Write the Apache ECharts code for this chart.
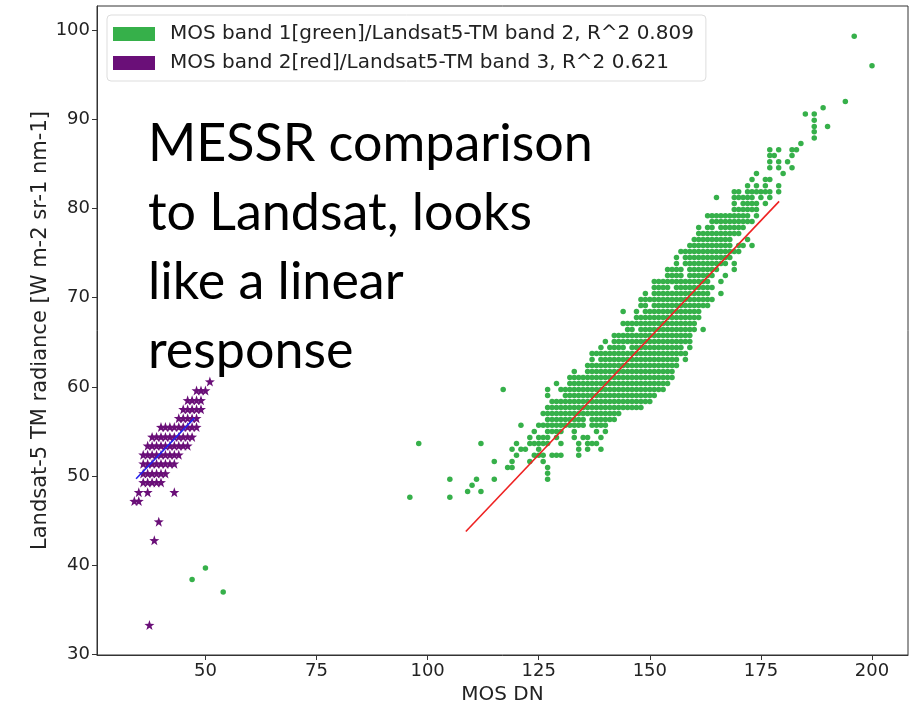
<!DOCTYPE html>
<html>
<head>
<meta charset="utf-8">
<script src="https://cdn.jsdelivr.net/npm/echarts@6/dist/echarts.min.js"></script>
<style>
  html, body { margin: 0; padding: 0; background: #fff; }
  #main { width: 922px; height: 707px; }
</style>
</head>
<body>
<div id="main"></div>
<script>
var greenName = 'MOS band 1[green]/Landsat5-TM band 2, R^2 0.809';
var purpleName = 'MOS band 2[red]/Landsat5-TM band 3, R^2 0.621';

// green band, read row by row: [radiance, first DN, last DN]
var greenRuns = [
  [86.60,177,177],[86.60,179,179],[86.60,182,183],
  [85.93,177,178],[85.93,182,182],
  [85.25,177,177],[85.25,179,179],[85.25,181,181],
  [84.58,177,177],[84.58,179,179],[84.58,182,182],
  [83.91,174,174],[83.91,180,180],
  [83.24,173,173],[83.24,176,177],
  [82.56,172,172],[82.56,174,174],[82.56,176,176],[82.56,179,179],
  [81.89,169,170],[81.89,172,177],[81.89,179,179],
  [81.22,165,165],[81.22,169,173],[81.22,175,175],[81.22,177,177],
  [80.55,169,169],[80.55,171,174],[80.55,176,176],
  [79.88,169,174],
  [79.20,163,172],[79.20,174,174],
  [78.53,164,173],
  [77.86,161,161],[77.86,163,164],[77.86,166,171],
  [77.19,161,170],
  [76.52,160,168],[76.52,172,172],
  [75.84,159,168],[75.84,170,171],[75.84,173,173],
  [75.17,157,170],
  [74.50,156,156],[74.50,158,168],
  [73.83,156,156],[73.83,158,167],[73.83,169,169],
  [73.16,154,157],[73.16,159,165],[73.16,169,169],
  [72.48,154,157],[72.48,159,164],[72.48,167,167],
  [71.81,151,163],[71.81,166,166],
  [71.14,151,154],[71.14,156,164],
  [70.47,149,149],[70.47,151,163],[70.47,166,166],
  [69.80,148,164],
  [69.12,148,149],[69.12,151,163],
  [68.45,144,144],[68.45,147,147],[68.45,149,161],
  [67.78,147,161],
  [67.11,144,160],
  [66.44,145,146],[66.44,148,160],[66.44,162,162],
  [65.77,142,159],
  [65.09,140,140],[65.09,142,159],
  [64.42,139,139],[64.42,141,144],[64.42,146,157],[64.42,159,159],
  [63.75,137,158],
  [63.08,137,137],[63.08,139,156],[63.08,158,158],
  [62.41,136,156],
  [61.73,133,133],[61.73,136,155],
  [61.06,132,155],
  [60.39,129,129],[60.39,132,154],
  [59.72,117,117],[59.72,127,127],[59.72,130,153],
  [59.05,127,127],[59.05,131,151],
  [58.37,128,150],
  [57.70,127,148],
  [57.03,126,143],
  [56.36,127,135],[56.36,137,142],
  [55.69,121,121],[55.69,125,135],[55.69,137,140],
  [55.01,124,124],[55.01,127,130],[55.01,133,133],[55.01,138,138],[55.01,140,140],
  [54.34,123,123],[54.34,125,127],[54.34,129,129],[54.34,133,133],[54.34,135,136],[54.34,139,139],
  [53.67,98,98],[53.67,112,112],[53.67,120,120],[53.67,123,127],[53.67,130,130],[53.67,134,134],[53.67,136,138],
  [53.00,119,119],[53.00,121,122],[53.00,125,125],[53.00,134,134],[53.00,136,136],[53.00,139,139],
  [52.33,120,120],[52.33,124,126],[52.33,128,130],[52.33,134,134],
  [51.65,115,115],[51.65,119,119],[51.65,123,123],[51.65,126,126],
  [50.98,118,119],[50.98,127,127],
  [50.31,127,127],
  [49.64,105,105],[49.64,111,111],[49.64,115,115],[49.64,127,127],
  [48.97,110,110],
  [48.29,109,109],[48.29,112,112],
  [47.62,96,96],[47.62,105,105]
];
// loose green points [DN, radiance]
var greenExtra = [
  [47,38.4],[50,39.7],[54,37.0],
  [184,87.3],[185,90.6],[187,90.6],[187,89.9],[187,89.2],[187,88.6],[187,87.9],
  [189,91.3],[190,89.2],[194,92.0],[196,99.3],[200,96.0]
];

var purpleRuns = [
  [60.6,51,51],[59.6,48,50],[58.5,46,49],[57.5,45,49],[56.5,44,48],
  [55.5,40,48],[54.4,38,47],[53.4,37,46],[52.4,36,44],[51.4,36,43],
  [50.3,36,41],[49.3,36,40],[48.2,35,35],[48.2,37,37],[48.2,43,43],[47.2,34,35]
];
var purpleExtra = [[39.5,44.9],[38.5,42.8],[37.4,33.3]];

var redFit = [[108.6,43.8],[179.1,80.8]];
var blueFit = [[34.4,49.7],[47.5,56.5]];

var xTicks = [50, 75, 100, 125, 150, 175, 200];
var yTicks = [30, 40, 50, 60, 70, 80, 90, 100];

function expand(runs, extra) {
  var pts = [];
  runs.forEach(function (r) {
    for (var x = r[1]; x <= r[2]; x++) pts.push([x, r[0]]);
  });
  return pts.concat(extra);
}

var chart = echarts.init(document.getElementById('main'));
var font = 'DejaVu Sans';

var option = {
  animation: false,
  backgroundColor: '#fff',
  grid: {
    left: 97, right: 14, top: 6, bottom: 52,
    outerBoundsMode: 'none',
    show: true, borderColor: '#333', borderWidth: 1
  },
  legend: {
    left: 107, top: 15,
    orient: 'vertical',
    icon: 'rect',
    itemWidth: 42, itemHeight: 14, itemGap: 9,
    padding: [9, 12, 8, 6],
    borderColor: '#ddd', borderWidth: 1, borderRadius: 4,
    backgroundColor: 'rgba(255,255,255,0.85)',
    textStyle: { fontFamily: font, fontSize: 20, color: '#222', padding: [0, 0, 0, 10] },
    data: [greenName, purpleName]
  },
  xAxis: {
    type: 'value',
    min: 25.6, max: 208.1,
    name: 'MOS DN',
    nameLocation: 'middle',
    nameGap: 28,
    nameTextStyle: { fontFamily: font, fontSize: 20, color: '#222' },
    axisLine: { show: true, onZero: false, lineStyle: { color: '#333' } },
    axisTick: { show: true, length: 5, customValues: xTicks, lineStyle: { color: '#333' } },
    axisLabel: { customValues: xTicks, fontFamily: font, fontSize: 18, color: '#222', margin: 7 },
    splitLine: { show: false }
  },
  yAxis: {
    type: 'value',
    min: 29.95, max: 102.7,
    name: 'Landsat-5 TM radiance [W m-2 sr-1 nm-1]',
    nameLocation: 'middle',
    nameRotate: 90,
    nameGap: 46,
    nameMoveOverlap: false,
    nameTextStyle: { fontFamily: font, fontSize: 21, color: '#222' },
    axisLine: { show: true, onZero: false, lineStyle: { color: '#333' } },
    axisTick: { show: true, length: 5, customValues: yTicks, lineStyle: { color: '#333' } },
    axisLabel: { customValues: yTicks, fontFamily: font, fontSize: 18, color: '#222', margin: 7 },
    splitLine: { show: false }
  },
  series: [
    {
      name: greenName,
      type: 'scatter',
      symbol: 'circle',
      symbolSize: 5.5,
      itemStyle: { color: '#36b04a', opacity: 1 },
      data: expand(greenRuns, greenExtra)
    },
    {
      name: purpleName,
      type: 'scatter',
      symbol: 'path://M0,-10 L2.35,-3.24 L9.51,-3.09 L3.8,1.24 L5.88,8.09 L0,4 L-5.88,8.09 L-3.8,1.24 L-9.51,-3.09 L-2.35,-3.24 Z',
      symbolSize: 10,
      itemStyle: { color: '#6a0f78', opacity: 1 },
      data: expand(purpleRuns, purpleExtra)
    },
    {
      type: 'line',
      data: redFit,
      symbol: 'none',
      lineStyle: { color: '#ee2222', width: 1.6 },
      z: 5
    },
    {
      type: 'line',
      data: blueFit,
      symbol: 'none',
      lineStyle: { color: '#2222ee', width: 1.6 },
      z: 5
    }
  ],
  graphic: [{
    type: 'text',
    left: 148, top: 110,
    z: 10,
    style: {
      text: 'MESSR comparison\nto Landsat, looks\nlike a linear\nresponse',
      font: '52px Lato',
      fill: '#000',
      lineHeight: 69
    }
  }]
};

chart.setOption(option);
</script>
</body>
</html>
